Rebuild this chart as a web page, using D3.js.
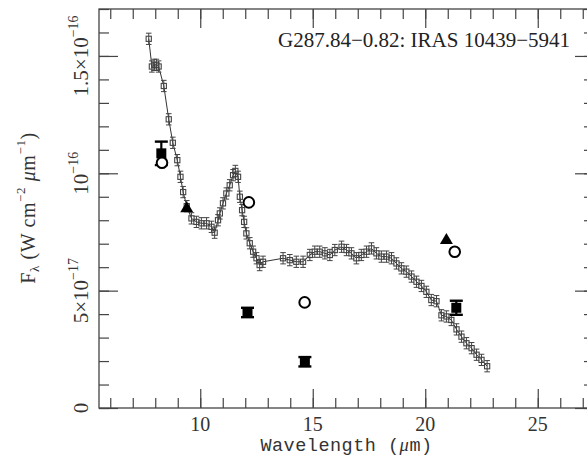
<!DOCTYPE html>
<html><head><meta charset="utf-8">
<script src="https://cdn.jsdelivr.net/npm/d3@7"></script>
<style>body{margin:0;background:#fff}svg{display:block}</style>
</head><body>
<script>
// Spectrum (wavelength in µm, flux in units of 1e-17 W cm^-2 µm^-1)
const specWave = [7.71,7.85,7.95,8.05,8.15,8.38,8.60,8.78,8.98,9.12,9.24,9.40,9.61,9.83,10.05,10.28,10.50,10.64,10.79,10.87,11.01,11.16,11.31,11.46,11.56,11.68,11.76,11.86,11.95,12.05,12.20,12.35,12.50,12.64,12.79,
  13.68,13.98,14.27,14.57,14.87,15.09,15.31,15.54,15.76,15.98,16.28,16.50,16.72,16.94,17.16,17.39,17.61,17.83,18.05,18.28,18.50,18.72,18.94,19.16,19.39,19.61,19.83,20.05,20.27,20.50,20.72,20.94,21.16,21.39,21.61,21.83,22.06,22.28,22.50,22.75];
const specFlux = [15.73,14.55,14.62,14.62,14.55,13.72,12.30,11.30,10.56,9.85,9.20,8.60,8.08,7.93,7.87,7.87,7.72,7.47,8.00,8.29,8.72,9.14,9.49,9.92,10.10,9.85,9.00,8.43,7.93,7.44,7.02,6.66,6.38,6.09,6.23,
  6.38,6.30,6.23,6.23,6.52,6.66,6.66,6.59,6.52,6.73,6.87,6.73,6.59,6.38,6.52,6.66,6.80,6.59,6.45,6.45,6.38,6.16,5.95,5.81,5.60,5.38,5.20,4.95,4.60,4.55,3.95,3.90,3.75,3.35,3.04,2.76,2.55,2.27,2.05,1.78];
const specErr = 0.24;

// Photometry
const squareWave = [8.27, 12.10, 14.65, 21.38];
const squareFlux = [10.85, 4.07, 1.97, 4.27];
const squareErr  = [0.50, 0.20, 0.20, 0.30];
const circleWave = [8.30, 12.16, 14.64, 21.31];
const circleFlux = [10.45, 8.76, 4.50, 6.66];
const triWave = [9.40, 20.94];
const triFlux = [8.55, 7.20];

const xMajor = [10, 15, 20, 25];
const xMinor = d3.range(6, 28, 1);
const yMajor = [0, 5, 10, 15];
const yMinor = d3.range(0, 18, 1);
const yTickMant = ["0", "5×10", "10", "1.5×10"];
const yTickExp = ["", "−17", "−16", "−16"];
const title = "G287.84−0.82: IRAS 10439−5941";

const W = 587, H = 457;
const svg = d3.select("body").append("svg").attr("width", W).attr("height", H);
const x = d3.scaleLinear().domain([5.5, 27.5]).range([99, 594]);
const y = d3.scaleLinear().domain([0, 17]).range([408, 9]);
const axCol = "#444";
const serif = "'Liberation Serif', 'DejaVu Serif', serif";

// frame
svg.append("rect").attr("x", x(5.5)).attr("y", y(17)).attr("width", x(27.5) - x(5.5)).attr("height", y(0) - y(17))
  .attr("fill", "none").attr("stroke", axCol).attr("stroke-width", 1.3);

function styleAxis(g) {
  g.select(".domain").remove();
  g.selectAll(".tick line").attr("stroke", axCol).attr("stroke-width", 1.2);
}
// x axes (bottom & top), ticks inward
svg.append("g").attr("transform", `translate(0,${y(0)})`)
  .call(d3.axisBottom(x).tickValues(xMinor).tickSize(-10).tickFormat("")).call(styleAxis);
svg.append("g").attr("transform", `translate(0,${y(0)})`)
  .call(d3.axisBottom(x).tickValues(xMajor).tickSize(-19).tickFormat("")).call(styleAxis);
svg.append("g").attr("transform", `translate(0,${y(17)})`)
  .call(d3.axisTop(x).tickValues(xMinor).tickSize(-10).tickFormat("")).call(styleAxis);
svg.append("g").attr("transform", `translate(0,${y(17)})`)
  .call(d3.axisTop(x).tickValues(xMajor).tickSize(-19).tickFormat("")).call(styleAxis);
// y axes
svg.append("g").attr("transform", `translate(${x(5.5)},0)`)
  .call(d3.axisLeft(y).tickValues(yMinor).tickSize(-10).tickFormat("")).call(styleAxis);
svg.append("g").attr("transform", `translate(${x(5.5)},0)`)
  .call(d3.axisLeft(y).tickValues(yMajor).tickSize(-19).tickFormat("")).call(styleAxis);
svg.append("g").attr("transform", `translate(${x(27.5)},0)`)
  .call(d3.axisRight(y).tickValues(yMinor).tickSize(-10).tickFormat("")).call(styleAxis);
svg.append("g").attr("transform", `translate(${x(27.5)},0)`)
  .call(d3.axisRight(y).tickValues(yMajor).tickSize(-19).tickFormat("")).call(styleAxis);

// x tick labels
svg.append("g").selectAll("text").data(xMajor).join("text")
  .attr("x", d => x(d)).attr("y", 431).attr("text-anchor", "middle")
  .attr("font-family", serif).attr("font-size", 20).attr("fill", "#333").text(d => d);

// y tick labels (rotated)
yMajor.forEach((v, i) => {
  const t = svg.append("text")
    .attr("transform", `translate(88,${y(v)}) rotate(-90)`)
    .attr("text-anchor", "middle").attr("font-family", serif).attr("font-size", 21).attr("fill", "#333");
  t.append("tspan").text(yTickMant[i]);
  if (yTickExp[i]) t.append("tspan").attr("dy", -10).attr("font-size", 14).text(yTickExp[i]);
});

// axis titles
const xl = svg.append("text").attr("x", (x(5.5) + x(27.5)) / 2).attr("y", 451).attr("text-anchor", "middle")
  .attr("font-family", "'Liberation Mono', 'DejaVu Sans Mono', monospace").attr("font-size", 18.5).attr("fill", "#333")
  .attr("letter-spacing", 0.5);
xl.append("tspan").text("Wavelength (");
xl.append("tspan").attr("font-family", serif).attr("font-style", "italic").text("μ");
xl.append("tspan").text("m)");

const yl = svg.append("text").attr("transform", "translate(35,208) rotate(-90)").attr("text-anchor", "middle")
  .attr("font-family", serif).attr("font-size", 20).attr("fill", "#333").attr("letter-spacing", 0.6);
yl.append("tspan").text("F");
yl.append("tspan").attr("font-size", 13).attr("dy", 4).text("λ");
yl.append("tspan").attr("dy", -4).text(" (W  cm");
yl.append("tspan").attr("font-size", 13).attr("dy", -10).text("−2");
yl.append("tspan").attr("dy", 10).attr("font-style", "italic").text(" μ");
yl.append("tspan").text("m");
yl.append("tspan").attr("font-size", 13).attr("dy", -10).text("−1");
yl.append("tspan").attr("dy", 10).text(")");

// title
svg.append("text").attr("x", 570).attr("y", 47).attr("text-anchor", "end")
  .attr("font-family", serif).attr("font-size", 21).attr("fill", "#222").text(title);

// spectrum
const spec = specWave.map((w, i) => ({w, f: specFlux[i]}));
const lineCol = "#333", mkCol = "#444";
svg.append("path").datum(spec)
  .attr("d", d3.line().x(d => x(d.w)).y(d => y(d.f)))
  .attr("fill", "none").attr("stroke", lineCol).attr("stroke-width", 1);
const sg = svg.append("g");
sg.selectAll("line.eb").data(spec).join("line")
  .attr("x1", d => x(d.w)).attr("x2", d => x(d.w))
  .attr("y1", d => y(d.f - specErr)).attr("y2", d => y(d.f + specErr))
  .attr("stroke", mkCol).attr("stroke-width", 1);
[1, -1].forEach(s => {
  sg.selectAll(null).data(spec).join("line")
    .attr("x1", d => x(d.w) - 2.8).attr("x2", d => x(d.w) + 2.8)
    .attr("y1", d => y(d.f + s * specErr)).attr("y2", d => y(d.f + s * specErr))
    .attr("stroke", mkCol).attr("stroke-width", 1);
});
sg.selectAll("rect").data(spec).join("rect")
  .attr("x", d => x(d.w) - 2.6).attr("y", d => y(d.f) - 2.6).attr("width", 5.2).attr("height", 5.2)
  .attr("fill", "none").attr("stroke", mkCol).attr("stroke-width", 1.1);

// photometry: squares with error bars
const sq = squareWave.map((w, i) => ({w, f: squareFlux[i], e: squareErr[i]}));
const pg = svg.append("g");
pg.selectAll("line.v").data(sq).join("line")
  .attr("x1", d => x(d.w)).attr("x2", d => x(d.w))
  .attr("y1", d => y(d.f - d.e)).attr("y2", d => y(d.f + d.e))
  .attr("stroke", "#000").attr("stroke-width", 2.2);
[1, -1].forEach(s => {
  pg.selectAll(null).data(sq).join("line")
    .attr("x1", d => x(d.w) - 6.5).attr("x2", d => x(d.w) + 6.5)
    .attr("y1", d => y(d.f + s * d.e)).attr("y2", d => y(d.f + s * d.e))
    .attr("stroke", "#000").attr("stroke-width", 2.4);
});
pg.selectAll("rect").data(sq).join("rect")
  .attr("x", d => x(d.w) - 5).attr("y", d => y(d.f) - 5).attr("width", 10).attr("height", 10)
  .attr("fill", "#000");

// open circles
const ci = circleWave.map((w, i) => ({w, f: circleFlux[i]}));
pg.selectAll("circle").data(ci).join("circle")
  .attr("cx", d => x(d.w)).attr("cy", d => y(d.f)).attr("r", 5.3)
  .attr("fill", "#fff").attr("stroke", "#000").attr("stroke-width", 2);

// filled triangles
const tr = triWave.map((w, i) => ({w, f: triFlux[i]}));
pg.selectAll("path.tri").data(tr).join("path")
  .attr("d", d => `M${x(d.w)},${y(d.f) - 6}L${x(d.w) + 6.5},${y(d.f) + 5}L${x(d.w) - 6.5},${y(d.f) + 5}Z`)
  .attr("fill", "#000");
</script>
</body></html>
